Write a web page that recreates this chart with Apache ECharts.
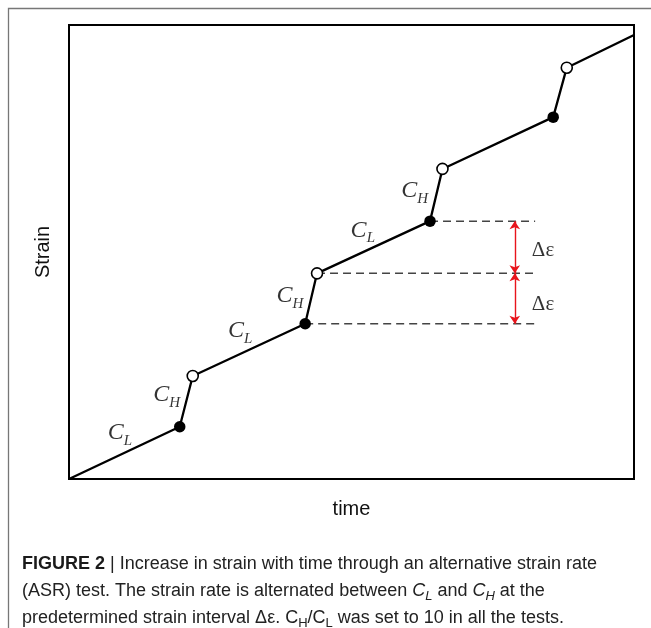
<!DOCTYPE html>
<html>
<head>
<meta charset="utf-8">
<script src="https://cdn.jsdelivr.net/npm/echarts@6/dist/echarts.min.js"></script>
<style>
html,body{margin:0;padding:0;background:#fff;}
#c{width:651px;height:628px;}
</style>
</head>
<body>
<div id="c"></div>
<script>
// Strain path (time, strain), in arbitrary units 0..100
const pathTime   = [0, 19.6, 21.9, 41.8, 43.9, 63.9, 66.1, 85.7, 88.1, 100];
const pathStrain = [0, 11.5, 22.7, 34.2, 45.3, 56.8, 68.3, 79.7, 90.6, 97.8];
const filledIdx = [1, 3, 5, 7];   // switch CL -> CH
const openIdx   = [2, 4, 6, 8];   // switch CH -> CL

// dashed reference levels (strain) and where they start (time)
const dashLevels = [34.2, 45.3, 56.8];
const dashStart  = [41.8, 43.9, 63.9];
const dashEnd    = 82.5;
const arrowTime  = 78.9;

// C_L / C_H labels: [time, strain, subscript]
const rateLabels = [
  [9.0, 10.2, 'L'],
  [17.3, 18.5, 'H'],
  [30.3, 32.6, 'L'],
  [39.1, 40.3, 'H'],
  [52.0, 54.8, 'L'],
  [61.2, 63.4, 'H']
];
const deltaLabels = [[83.9, 50.4], [83.9, 38.5]];

const xAxisName = 'time';
const yAxisName = 'Strain';

const linePts = pathTime.map((t, i) => [t, pathStrain[i]]);
const filledPts = filledIdx.map(i => [pathTime[i], pathStrain[i]]);
const openPts = openIdx.map(i => [pathTime[i], pathStrain[i]]);

const dashSeries = dashLevels.map((lv, i) => ({
  type: 'line',
  data: [[dashStart[i], lv], [dashEnd, lv]],
  showSymbol: false,
  silent: true,
  z: 1,
  lineStyle: { color: '#444', width: 1.5, type: [8, 5] }
}));

const arrowData = [
  { coords: [[arrowTime, dashLevels[2]], [arrowTime, dashLevels[1]]] },
  { coords: [[arrowTime, dashLevels[1]], [arrowTime, dashLevels[0]]] }
];

const serif = '"Liberation Serif", "DejaVu Serif", serif';
const sans = '"Liberation Sans", Arial, sans-serif';

const chart = echarts.init(document.getElementById('c'), null, { renderer: 'canvas' });
chart.setOption({
  animation: false,
  backgroundColor: '#fff',
  grid: {
    left: 69, top: 25, width: 565, height: 454,
    show: true, borderColor: '#000', borderWidth: 2, backgroundColor: 'transparent'
  },
  xAxis: {
    type: 'value', min: 0, max: 100,
    axisLine: { show: false }, axisTick: { show: false }, axisLabel: { show: false }, splitLine: { show: false },
    name: xAxisName, nameLocation: 'middle', nameGap: 20,
    nameTextStyle: { fontFamily: sans, fontSize: 20, color: '#111' }
  },
  yAxis: {
    type: 'value', min: 0, max: 100,
    axisLine: { show: false }, axisTick: { show: false }, axisLabel: { show: false }, splitLine: { show: false },
    name: yAxisName, nameLocation: 'middle', nameGap: 16,
    nameTextStyle: { fontFamily: sans, fontSize: 20, color: '#111' }
  },
  graphic: [
    {
      type: 'rect', silent: true, z: -1,
      shape: { x: 8.5, y: 8.5, width: 700, height: 700 },
      style: { fill: null, stroke: '#777', lineWidth: 1.3 }
    },
    {
      type: 'text', left: 22, top: 555, silent: true,
      style: {
        text: '{b|FIGURE 2 }{n|| Increase in strain with time through an alternative strain rate}\n' +
              '{n|(ASR) test. The strain rate is alternated between }{i|C}{is|L}{n| and }{i|C}{is|H}{n| at the}\n' +
              '{n|predetermined strain interval Δε. C}{s|H}{n|/C}{s|L}{n| was set to 10 in all the tests.}',
        fill: '#222',
        rich: {
          b: { fontFamily: sans, fontSize: 18, fontWeight: 'bold', lineHeight: 27, fill: '#1a1a1a' },
          n: { fontFamily: sans, fontSize: 18, lineHeight: 27, fill: '#222' },
          i: { fontFamily: sans, fontSize: 18, fontStyle: 'italic', lineHeight: 27, fill: '#222' },
          is: { fontFamily: sans, fontSize: 13, fontStyle: 'italic', lineHeight: 13, padding: [10, 0, 0, 0], fill: '#222' },
          s: { fontFamily: sans, fontSize: 13, lineHeight: 13, padding: [10, 0, 0, 0], fill: '#222' }
        }
      }
    }
  ],
  series: [
    ...dashSeries,
    {
      type: 'line', data: linePts, showSymbol: false, z: 2, silent: true,
      lineStyle: { color: '#000', width: 2.3 }
    },
    {
      type: 'lines', coordinateSystem: 'cartesian2d', data: arrowData, z: 2, silent: true,
      symbol: ['arrow', 'arrow'], symbolSize: 8,
      lineStyle: { color: '#e8141c', width: 1.4, opacity: 1 }
    },
    {
      type: 'scatter', data: filledPts, symbol: 'circle', symbolSize: 11.5, z: 3, silent: true,
      itemStyle: { color: '#000', borderColor: '#000', borderWidth: 0, opacity: 1 }
    },
    {
      type: 'scatter', data: openPts, symbol: 'circle', symbolSize: 11, z: 3, silent: true,
      itemStyle: { color: '#fff', borderColor: '#000', borderWidth: 1.6, opacity: 1 }
    },
    {
      type: 'scatter', symbolSize: 0, z: 4, silent: true,
      data: rateLabels.map(r => ({ value: [r[0], r[1]], sub: r[2] })),
      label: {
        show: true, position: 'inside',
        formatter: p => '{c|C}{s|' + p.data.sub + '}',
        rich: {
          c: { fontFamily: serif, fontStyle: 'italic', fontSize: 24, color: '#000', lineHeight: 26 },
          s: { fontFamily: serif, fontStyle: 'italic', fontSize: 15, color: '#000', lineHeight: 15, padding: [16, 0, 0, 0] }
        }
      }
    },
    {
      type: 'scatter', symbolSize: 0, z: 4, silent: true,
      data: deltaLabels,
      label: {
        show: true, position: 'inside', formatter: 'Δε',
        fontFamily: serif, fontSize: 21, color: '#000'
      }
    }
  ]
});
</script>
</body>
</html>
